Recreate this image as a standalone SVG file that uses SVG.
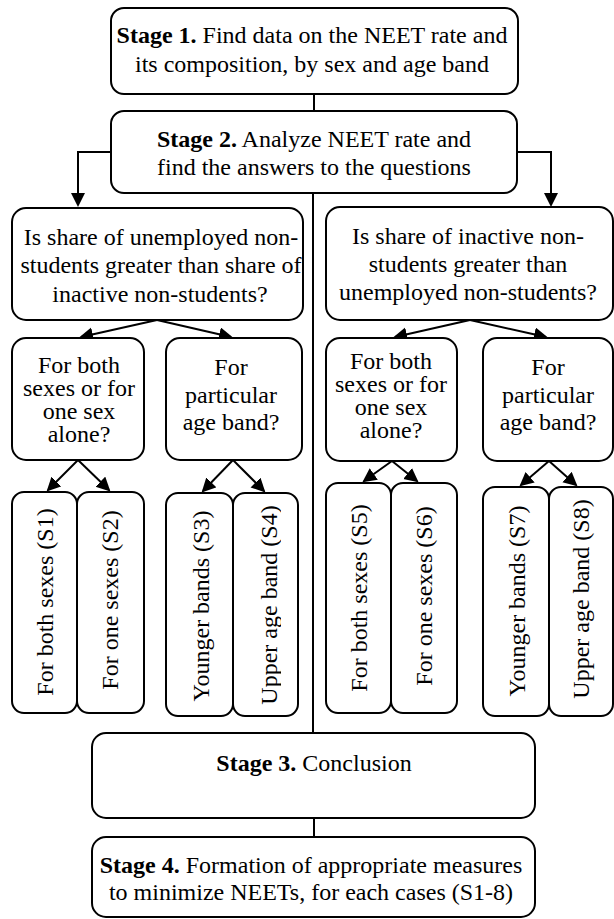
<svg xmlns="http://www.w3.org/2000/svg" width="614" height="919" viewBox="0 0 614 919" font-family="Liberation Serif, DejaVu Serif, serif">
<style>
  .box { fill: #ffffff; stroke: #000000; stroke-width: 2; }
  .t { font-family: 'Liberation Serif', 'Times New Roman', 'DejaVu Serif', serif; font-size: 24px; fill: #000000; text-anchor: middle; }
  .b { font-weight: bold; }
  .v { dominant-baseline: central; }
  .edge { fill: none; stroke: #000000; stroke-width: 2; }
  .arr { marker-end: url(#ah); }
</style>
<defs>
  <marker id="ah" markerUnits="userSpaceOnUse" markerWidth="15" markerHeight="15" refX="12" refY="7" orient="auto">
    <path d="M0,0 L14,7 L0,14 Z" fill="#000000"/>
  </marker>
  <clipPath id="clipQ1"><rect x="12" y="208" width="290" height="112"/></clipPath>
  <clipPath id="clipS4"><rect x="233" y="493" width="48" height="223"/></clipPath>
</defs>

<g id="connectors">
  <line class="edge" x1="314" y1="94" x2="314" y2="111"/>
  <polyline class="edge arr" points="111,152 78,152 78,205"/>
  <polyline class="edge arr" points="517,152 551,152 551,205"/>
  <line class="edge" x1="313" y1="193" x2="313" y2="733"/>
  <line class="edge" x1="314" y1="818" x2="314" y2="837"/>
  <line class="edge arr" x1="157" y1="320" x2="81" y2="337"/>
  <line class="edge arr" x1="157" y1="320" x2="231" y2="337"/>
  <line class="edge arr" x1="470" y1="320" x2="395" y2="337"/>
  <line class="edge arr" x1="470" y1="320" x2="546" y2="337"/>
  <line class="edge arr" x1="78" y1="460" x2="48" y2="490"/>
  <line class="edge arr" x1="78" y1="460" x2="109" y2="490"/>
  <line class="edge arr" x1="233" y1="460" x2="203" y2="491"/>
  <line class="edge arr" x1="233" y1="460" x2="264" y2="491"/>
  <line class="edge arr" x1="392" y1="461" x2="364" y2="481"/>
  <line class="edge arr" x1="392" y1="461" x2="417" y2="481"/>
  <line class="edge arr" x1="549" y1="461" x2="521" y2="485"/>
  <line class="edge arr" x1="549" y1="461" x2="576" y2="485"/>
</g>

<g id="stage1">
  <rect class="box" x="111" y="8" width="407" height="86" rx="13"/>
  <text class="t" x="312" y="43"><tspan class="b">Stage 1.</tspan> Find data on the NEET rate and</text>
  <text class="t" x="312" y="72">its composition, by sex and age band</text>
</g>

<g id="stage2">
  <rect class="box" x="111" y="111" width="406" height="82" rx="13"/>
  <text class="t" x="314" y="147"><tspan class="b">Stage 2.</tspan> Analyze NEET rate and</text>
  <text class="t" x="314" y="175">find the answers to the questions</text>
</g>

<g id="q-unemployed">
  <rect class="box" x="12" y="208" width="291" height="112" rx="14"/>
  <g clip-path="url(#clipQ1)">
    <text class="t" x="161" y="245">Is share of unemployed non-</text>
    <text class="t" x="161" y="273">students greater than share of</text>
    <text class="t" x="160" y="302">inactive non-students?</text>
  </g>
</g>

<g id="q-inactive">
  <rect class="box" x="326" y="207" width="287" height="113" rx="14"/>
  <text class="t" x="468" y="244">Is share of inactive non-</text>
  <text class="t" x="468" y="272">students greater than</text>
  <text class="t" x="468" y="300">unemployed non-students?</text>
</g>

<g id="l-sex">
  <rect class="box" x="12" y="338" width="132" height="122" rx="14"/>
  <text class="t" x="79" y="373">For both</text>
  <text class="t" x="79" y="396">sexes or for</text>
  <text class="t" x="79" y="419">one sex</text>
  <text class="t" x="79" y="442">alone?</text>
</g>

<g id="l-age">
  <rect class="box" x="166" y="338" width="136" height="122" rx="14"/>
  <text class="t" x="231" y="375">For</text>
  <text class="t" x="231" y="403">particular</text>
  <text class="t" x="231" y="430">age band?</text>
</g>

<g id="r-sex">
  <rect class="box" x="326" y="338" width="131" height="123" rx="14"/>
  <text class="t" x="391" y="369">For both</text>
  <text class="t" x="391" y="392">sexes or for</text>
  <text class="t" x="391" y="415">one sex</text>
  <text class="t" x="391" y="438">alone?</text>
</g>

<g id="r-age">
  <rect class="box" x="483" y="338" width="130" height="123" rx="14"/>
  <text class="t" x="548" y="375">For</text>
  <text class="t" x="548" y="403">particular</text>
  <text class="t" x="548" y="430">age band?</text>
</g>

<g id="s1">
  <rect class="box" x="12" y="492" width="65" height="221" rx="12"/>
  <text class="t v" x="45" y="602" transform="rotate(-90 45 602)">For both sexes (S1)</text>
</g>
<g id="s2">
  <rect class="box" x="77" y="492" width="67" height="221" rx="12"/>
  <text class="t v" x="110" y="600" transform="rotate(-90 110 600)">For one sexes (S2)</text>
</g>
<g id="s3">
  <rect class="box" x="166" y="493" width="67" height="223" rx="12"/>
  <text class="t v" x="201" y="606" transform="rotate(-90 201 606)">Younger bands (S3)</text>
</g>
<g id="s4">
  <rect class="box" x="233" y="493" width="65" height="223" rx="12"/>
  <g clip-path="url(#clipS4)">
    <text class="t v" x="269" y="605" transform="rotate(-90 269 605)">Upper age band (S4)</text>
  </g>
</g>
<g id="s5">
  <rect class="box" x="326" y="483" width="65" height="230" rx="12"/>
  <text class="t v" x="359" y="598" transform="rotate(-90 359 598)">For both sexes (S5)</text>
</g>
<g id="s6">
  <rect class="box" x="391" y="483" width="66" height="230" rx="12"/>
  <text class="t v" x="424" y="596" transform="rotate(-90 424 596)">For one sexes (S6)</text>
</g>
<g id="s7">
  <rect class="box" x="483" y="487" width="66" height="229" rx="12"/>
  <text class="t v" x="517" y="601" transform="rotate(-90 517 601)">Younger bands (S7)</text>
</g>
<g id="s8">
  <rect class="box" x="549" y="487" width="64" height="229" rx="12"/>
  <text class="t v" x="581" y="599" transform="rotate(-90 581 599)">Upper age band (S8)</text>
</g>

<g id="stage3">
  <rect class="box" x="92" y="733" width="443" height="85" rx="14"/>
  <text class="t" x="314" y="771"><tspan class="b">Stage 3.</tspan> Conclusion</text>
</g>

<g id="stage4">
  <rect class="box" x="92" y="837" width="443" height="80" rx="14"/>
  <text class="t" x="311" y="873"><tspan class="b">Stage 4.</tspan> Formation of appropriate measures</text>
  <text class="t" x="311" y="900">to minimize NEETs, for each cases (S1-8)</text>
</g>
</svg>
